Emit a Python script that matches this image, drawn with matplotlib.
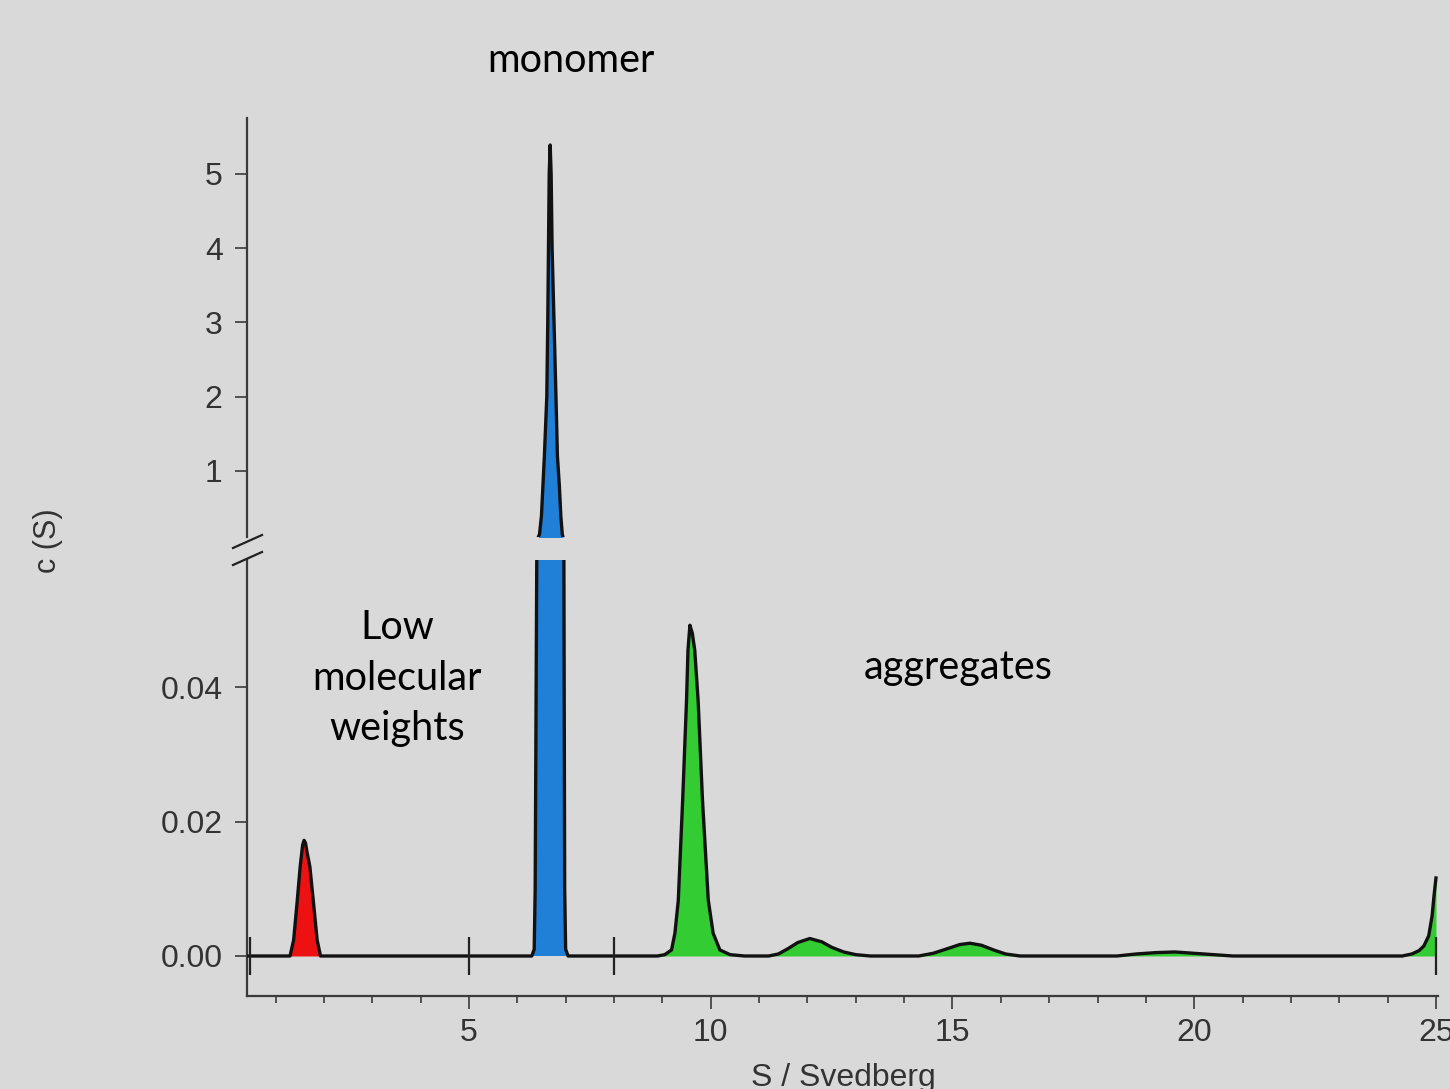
import matplotlib
matplotlib.use("Agg")
import matplotlib.pyplot as plt
from matplotlib.ticker import FixedLocator, MultipleLocator, FormatStrFormatter
from matplotlib.lines import Line2D

# ---------------- data ----------------
low_mw_x = [1.30, 1.375, 1.45, 1.51, 1.56, 1.59, 1.62, 1.65, 1.71, 1.78, 1.86, 1.93]
low_mw_y = [0.0, 0.0024, 0.0083, 0.0133, 0.0165, 0.0172, 0.0168, 0.0155, 0.0133, 0.0083, 0.0024, 0.0]

monomer_x = [6.30, 6.35, 6.37, 6.39, 6.41, 6.46, 6.50, 6.53, 6.56, 6.61, 6.63, 6.645, 6.66, 6.68,
             6.70, 6.72, 6.76, 6.80, 6.83, 6.87, 6.90, 6.93, 6.96, 6.97, 6.98, 7.00, 7.05]
monomer_y = [0.0, 0.001, 0.01, 0.04, 0.07, 0.15, 0.40, 0.80, 1.20, 2.00, 3.00, 4.00, 5.00, 5.39,
             5.00, 4.00, 3.00, 2.00, 1.20, 0.80, 0.40, 0.15, 0.07, 0.04, 0.01, 0.001, 0.0]

agg_x = [8.90, 9.05, 9.19, 9.26, 9.33, 9.42, 9.50, 9.53, 9.57, 9.62, 9.67, 9.74, 9.83, 9.95,
         10.05, 10.19, 10.40, 10.70,
         11.20, 11.40, 11.60, 11.80, 12.05, 12.30, 12.50, 12.75, 13.00, 13.30,
         14.30, 14.60, 14.90, 15.15, 15.36, 15.60, 15.85, 16.10, 16.40,
         18.40, 18.80, 19.20, 19.60, 20.00, 20.40, 20.80,
         24.30, 24.50, 24.65, 24.75, 24.85, 24.92, 24.96, 25.00]
agg_y = [0.0, 0.0002, 0.0009, 0.0034, 0.0083, 0.0232, 0.0380, 0.0455, 0.0492, 0.0480, 0.0455, 0.0380, 0.0232, 0.0083,
         0.0034, 0.0009, 0.0002, 0.0,
         0.0, 0.0003, 0.0011, 0.0020, 0.0026, 0.0021, 0.0013, 0.0006, 0.0002, 0.0,
         0.0, 0.0004, 0.0011, 0.0017, 0.0019, 0.0016, 0.0009, 0.0003, 0.0,
         0.0, 0.0003, 0.0005, 0.0006, 0.0004, 0.0002, 0.0,
         0.0, 0.0003, 0.0008, 0.0015, 0.0030, 0.0060, 0.0090, 0.0116]

baseline_start = [0.45]
boundaries = [0.47, 5.0, 8.0, 25.0]

upper_ticks = [1, 2, 3, 4, 5]
lower_ticks = [0.00, 0.02, 0.04]
x_major_ticks = [5, 10, 15, 20, 25]

labels = {"monomer": "monomer", "low": "Low\nmolecular\nweights", "agg": "aggregates"}

# ---------------- styling ----------------
BG = "#d9d9d9"
RED = "#ee1111"
BLUE = "#2080d8"
GREEN = "#33cc33"
AX = "#3a3a3a"
TICKFONT = ["Liberation Sans", "DejaVu Sans"]
LABELFONT = ["Lato", "DejaVu Sans"]

fig = plt.figure(figsize=(14.5, 10.89), dpi=100, facecolor=BG)

W, H = 1450.0, 1089.0
left = 247 / W
width = (1438.4 - 247) / W
ax_lo = fig.add_axes([left, 1 - 996 / H, width, (996 - 560) / H])
ax_hi = fig.add_axes([left, 1 - 537 / H, width, (537 - 118) / H], sharex=ax_lo)

curve_x = baseline_start + low_mw_x + monomer_x + agg_x
curve_y = [0.0] + low_mw_y + monomer_y + agg_y

for ax in (ax_lo, ax_hi):
    ax.set_facecolor("none")
    ax.fill_between(low_mw_x, low_mw_y, color=RED, lw=0, zorder=2)
    ax.fill_between(monomer_x, monomer_y, color=BLUE, lw=0, zorder=2)
    ax.fill_between(agg_x, agg_y, color=GREEN, lw=0, zorder=2)
    ax.plot(curve_x, curve_y, color="#111111", lw=2.4, zorder=3, solid_joinstyle="round")
    for s in ("top", "right"):
        ax.spines[s].set_visible(False)
    ax.spines["left"].set_color(AX)
    ax.spines["left"].set_linewidth(1.6)
    ax.tick_params(axis="y", direction="out", length=8.5, width=1.2, color=AX,
                   labelsize=23, labelcolor="#333333", pad=9)

ax_lo.vlines(boundaries, -0.0028, 0.0028, color="#222222", lw=1.6, zorder=4)

ax_lo.set_xlim(0.41, 25.05)
ax_lo.set_ylim(-0.00595, 0.0589)
ax_hi.set_ylim(0.111, 5.754)

ax_hi.spines["bottom"].set_visible(False)
ax_hi.tick_params(axis="x", which="both", bottom=False, labelbottom=False)
ax_hi.yaxis.set_major_locator(FixedLocator(upper_ticks))
ax_hi.yaxis.set_major_formatter(FormatStrFormatter("%d"))

ax_lo.yaxis.set_major_locator(FixedLocator(lower_ticks))
ax_lo.yaxis.set_major_formatter(FormatStrFormatter("%.2f"))
ax_lo.xaxis.set_major_locator(FixedLocator(x_major_ticks))
ax_lo.xaxis.set_minor_locator(MultipleLocator(1))
ax_lo.spines["bottom"].set_color(AX)
ax_lo.spines["bottom"].set_linewidth(1.6)
ax_lo.tick_params(axis="x", which="major", direction="out", length=9, width=1.2, color=AX,
                  labelsize=23, labelcolor="#333333", pad=7)
ax_lo.tick_params(axis="x", which="minor", direction="out", length=5, width=1.2, color=AX)
for lab in ax_lo.get_xticklabels() + ax_lo.get_yticklabels() + ax_hi.get_yticklabels():
    lab.set_family(TICKFONT)

# axis break marks
for y0, y1 in [(548, 535), (565, 552)]:
    fig.add_artist(Line2D([233 / W, 262 / W], [1 - y0 / H, 1 - y1 / H],
                          transform=fig.transFigure, color="#222222", lw=1.6))

# axis labels
fig.text(48 / W, 1 - 541 / H, "c (S)", rotation=90, ha="center", va="center",
         fontsize=22, color="#333333", family=TICKFONT)
fig.text(843 / W, 1 - 1086 / H, "S / Svedberg", ha="center", va="baseline",
         fontsize=23, color="#333333", family=TICKFONT)

# annotations
fig.text(571 / W, 1 - 72 / H, labels["monomer"], ha="center", va="baseline",
         fontsize=28.5, color="black", family=LABELFONT)
fig.text(958 / W, 1 - 679 / H, labels["agg"], ha="center", va="baseline",
         fontsize=28.5, color="black", family=LABELFONT)
fig.text(397 / W, 1 - 678 / H, labels["low"], ha="center", va="center",
         fontsize=28.5, color="black", family=LABELFONT, linespacing=1.45)

fig.savefig("out.png", dpi=100, facecolor=BG)
